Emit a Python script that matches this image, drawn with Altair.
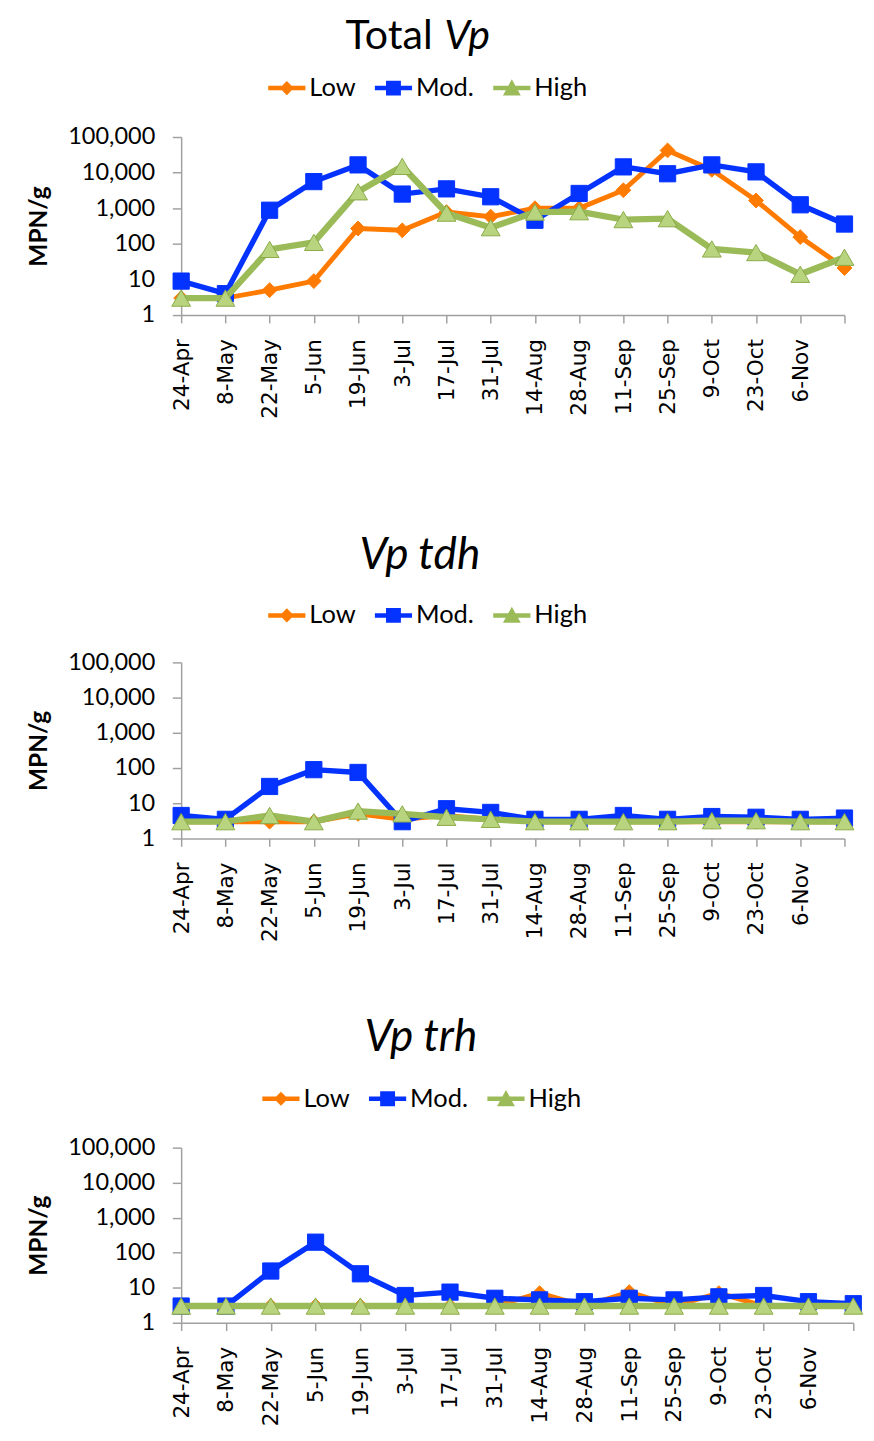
import altair as alt
import pandas as pd

dates = ["24-Apr", "8-May", "22-May", "5-Jun", "19-Jun", "3-Jul", "17-Jul", "31-Jul",
         "14-Aug", "28-Aug", "11-Sep", "25-Sep", "9-Oct", "23-Oct", "6-Nov", "20-Nov"]
series_names = ["Low", "Mod.", "High"]

# Total Vp (MPN/g)
total_low = [3, 3, 5, 9, 270, 240, 780, 580, 1000, 1000, 3200, 42000, 12000, 1650, 155, 21]
total_mod = [9, 4, 880, 5600, 16500, 2500, 3500, 2100, 460, 2600, 14500, 9300, 16500, 10500, 1250, 360]
total_high = [3, 3, 70, 110, 2900, 15000, 730, 285, 780, 800, 480, 510, 72, 57, 14, 42]

# Vp tdh (MPN/g)
tdh_low = [3, 3, 3, 3, 5, 3.5, 4.5, 3.5, 3, 3, 3, 3, 3, 3, 3, 3]
tdh_mod = [4.5, 3.5, 30, 90, 75, 3, 7, 5.5, 3.5, 3.5, 4.5, 3.5, 4.2, 4, 3.5, 3.8]
tdh_high = [3, 3, 4.5, 3, 6, 5, 4, 3.5, 3, 3, 3, 3, 3.2, 3.2, 3, 3]

# Vp trh (MPN/g)
trh_low = [3, 3, 3, 3, 3, 3, 3, 3, 7, 3, 7.5, 3, 7, 3, 3, 3]
trh_mod = [3, 3, 30, 200, 25, 6, 7.5, 5, 4.5, 4, 5, 4.5, 5.5, 6, 4, 3.5]
trh_high = [3, 3, 3, 3, 3, 3, 3, 3, 3, 3, 3, 3, 3, 3, 3, 3]

y_ticks = [1, 10, 100, 1000, 10000, 100000]

LINE = {"Low": "#FF7B00", "Mod.": "#0433FF", "High": "#9BBB59"}
FILL = {"Low": "#FF7B00", "Mod.": "#0433FF", "High": "#B9D47E"}
STROKE = {"Low": "#FF7B00", "Mod.": "#0433FF", "High": "#8AAA48"}
SHAPE = {"Low": "diamond", "Mod.": "square", "High": "triangle-up"}
SIZE = {"Low": 230, "Mod.": 275, "High": 370}
LW = {"Low": 5, "Mod.": 5.5, "High": 6.5}

LEG_PATHS = [
    "M-1,-0.12H1V0.12H-1Z M0,-0.38L0.38,0L0,0.38L-0.38,0Z",
    "M-1,-0.12H1V0.12H-1Z M-0.4,-0.4H0.4V0.4H-0.4Z",
    "M-1,-0.12H1V0.12H-1Z M0,-0.47L0.48,0.4L-0.48,0.4Z",
]
LEG_COLORS = ["#FF7B00", "#0433FF", "#9BBB59"]


def make_df(low, mod, high):
    rows = []
    for s, vals in zip(series_names, [low, mod, high]):
        for d, v in zip(dates, vals):
            rows.append({"date": d, "series": s, "value": v})
    return pd.DataFrame(rows)


def panel(df, width, height, titles, legend_x, legend_y, title_size):
    x = alt.X("date:N", sort=dates, scale=alt.Scale(type="point", padding=0),
              axis=alt.Axis(title=None, labelAngle=-90, labelFont="DejaVu Sans",
                            labelFontSize=22, labelColor="black", domainColor="#A0A0A0",
                            tickColor="#A0A0A0", tickSize=8, labelPadding=16,
                            domainWidth=1.5, tickWidth=1.5, grid=False, labelOverlap=False,
                            labelExpr="datum.label == '20-Nov' ? '' : datum.label"))
    y = alt.Y("value:Q", scale=alt.Scale(type="log", domain=[1, 100000]),
              axis=alt.Axis(title="MPN/g", values=y_ticks, format=",", grid=False,
                            labelFont="Lato", labelFontSize=24, labelColor="black",
                            titleFont="Lato", titleFontSize=25, titleFontWeight="bold",
                            titleColor="black", titlePadding=17,
                            domainColor="#A0A0A0", tickColor="#A0A0A0", tickSize=9,
                            domainWidth=1.5, tickWidth=1.5, labelPadding=18,
                            labelOverlap=False))
    layers = []
    for s in series_names:
        base = alt.Chart(df).transform_filter(alt.datum.series == s).encode(x=x, y=y)
        layers.append(base.mark_line(color=LINE[s], strokeWidth=LW[s]))
        layers.append(base.mark_point(shape=SHAPE[s], filled=True, fill=FILL[s],
                                      stroke=STROKE[s], strokeWidth=1, size=SIZE[s],
                                      opacity=1))
    leg = alt.Legend(orient="none", legendX=legend_x, legendY=legend_y,
                     direction="horizontal", title=None, symbolSize=1444,
                     labelFont="Lato", labelFontSize=26, labelColor="black",
                     labelOffset=4, columnPadding=19, padding=0,
                     symbolStrokeWidth=0, symbolOpacity=1)
    legend_layer = alt.Chart(df).transform_filter("false").mark_point(
        filled=True, opacity=1).encode(
        shape=alt.Shape("series:N", scale=alt.Scale(domain=series_names, range=LEG_PATHS),
                        legend=leg),
        color=alt.Color("series:N", scale=alt.Scale(domain=series_names, range=LEG_COLORS),
                        legend=leg))
    title_layers = []
    for txt, italic, align, tx, ty in titles:
        title_layers.append(
            alt.Chart(pd.DataFrame({"t": [txt]})).mark_text(
                font="Lato", fontSize=title_size, fontStyle="italic" if italic else "normal",
                align=align, baseline="middle", color="black").encode(
                text="t:N", x=alt.value(tx), y=alt.value(ty)))
    return alt.layer(*layers, legend_layer, *title_layers).properties(width=width, height=height)


p1 = panel(make_df(total_low, total_mod, total_high), 678, 182,
           [("Total", False, "right", 257, -103), ("Vp", True, "left", 269, -103)],
           89, -69, 42)
p2 = panel(make_df(tdh_low, tdh_mod, tdh_high), 678, 180,
           [("Vp tdh", True, "center", 244, -109)],
           89, -67, 45)
p3 = panel(make_df(trh_low, trh_mod, trh_high), 687, 179,
           [("Vp trh", True, "center", 245, -113)],
           83, -69, 45)

inner = alt.concat(p2, p3, columns=1, spacing=75).resolve_scale(
    shape="independent", color="independent").resolve_legend(
    shape="independent", color="independent")
chart = alt.concat(p1, inner, columns=1, spacing=118).resolve_scale(
    shape="independent", color="independent").resolve_legend(
    shape="independent", color="independent").properties(
    padding={"left": 19, "top": -8, "right": 0, "bottom": 0}).configure_view(stroke=None)

chart.save("out.html", embed_options={"renderer": "svg", "actions": False})
